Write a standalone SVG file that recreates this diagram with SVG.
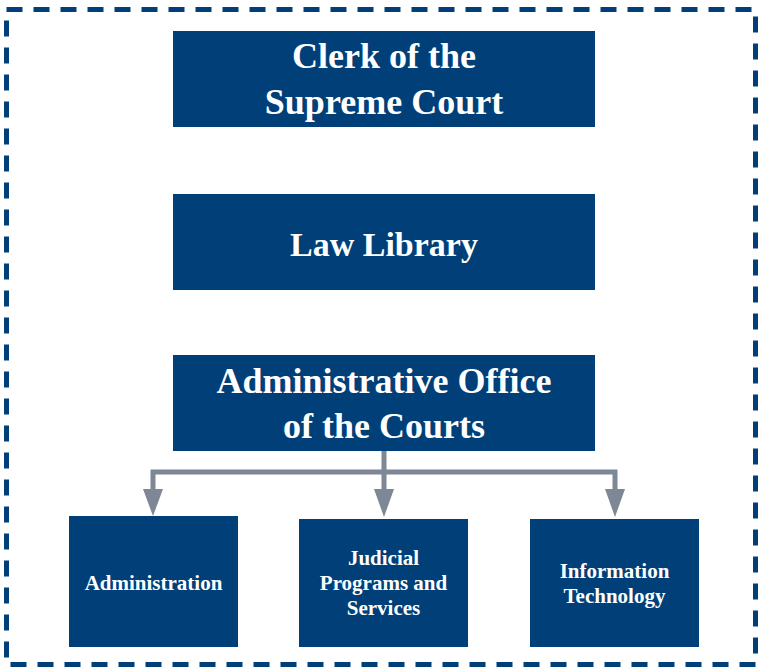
<svg xmlns="http://www.w3.org/2000/svg" width="759" height="669" viewBox="0 0 759 669">
<style>
.box{fill:#003F78}
.big{font-family:"Liberation Serif",serif;font-weight:bold;font-size:36px;fill:#fff;text-anchor:middle}
.small{font-family:"Liberation Serif",serif;font-weight:bold;font-size:21px;fill:#fff;text-anchor:middle}
.conn{stroke:#7E8796;stroke-width:5;fill:none}
.head{fill:#7E8796}
</style>
<rect x="6.5" y="9.5" width="749" height="655" fill="none" stroke="#003F78" stroke-width="5" stroke-dasharray="16 11"/>
<g id="clerk">
<rect class="box" x="173" y="31" width="422" height="96"/>
<text class="big" x="384" y="68">Clerk of the</text>
<text class="big" x="384" y="114">Supreme Court</text>
</g>
<g id="lawlibrary">
<rect class="box" x="173" y="194" width="422" height="96"/>
<text class="big" x="384" y="256" style="font-size:34px">Law Library</text>
</g>
<g id="aoc">
<rect class="box" x="173" y="355" width="422" height="96"/>
<text class="big" x="384" y="393">Administrative Office</text>
<text class="big" x="384" y="438">of the Courts</text>
</g>
<g id="administration">
<rect class="box" x="69" y="516" width="169" height="131"/>
<text class="small" x="153.5" y="590">Administration</text>
</g>
<g id="judicial">
<rect class="box" x="299" y="519" width="169" height="128"/>
<text class="small" x="383.5" y="565">Judicial</text>
<text class="small" x="383.5" y="590">Programs and</text>
<text class="small" x="383.5" y="615">Services</text>
</g>
<g id="it">
<rect class="box" x="530" y="519" width="169" height="128"/>
<text class="small" x="614.5" y="578">Information</text>
<text class="small" x="614.5" y="603">Technology</text>
</g>
<g id="connectors">
<path class="conn" d="M384 451V472M153 492V472H615V492M384 472V492"/>
<polygon class="head" points="143,489 163,489 153,516"/>
<polygon class="head" points="374,489 394,489 384,517"/>
<polygon class="head" points="605,489 625,489 615,517"/>
</g>
</svg>
